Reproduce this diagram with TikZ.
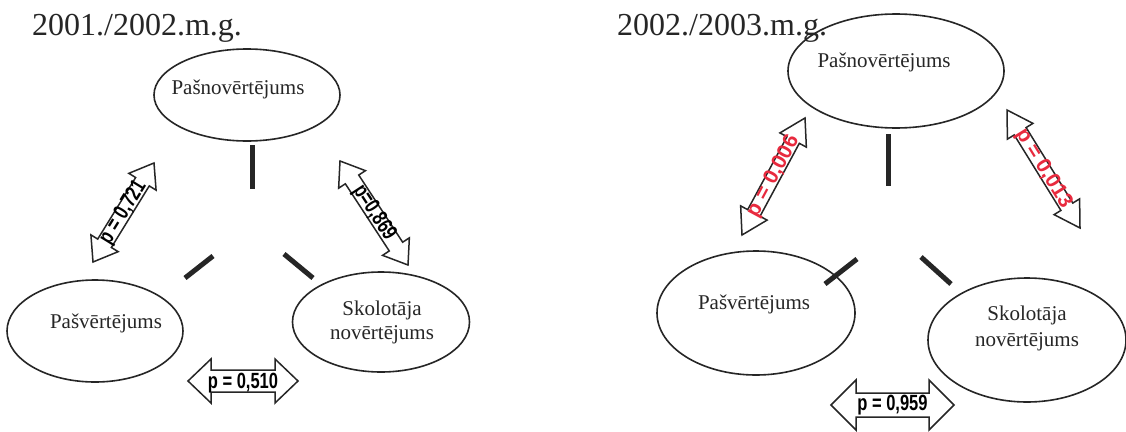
\documentclass[tikz,border=0pt]{standalone}
\usepackage{fontspec}
\setmainfont{Liberation Serif}
\newfontfamily\arrowfont{Liberation Sans}
\usetikzlibrary{shapes.geometric,calc}
\definecolor{pred}{RGB}{232,42,62}
\definecolor{ink}{RGB}{38,38,38}
\newcommand{\condense}[1]{\scalebox{0.75}[1]{#1}}
\newcommand{\dblarrow}[7]{% #1 name, #2 style, #3 A, #4 B, #5 head length, #6 head half width, #7 shaft half width
  \coordinate (#1p) at ($(#3)!#5!(#4)$);
  \coordinate (#1q) at ($(#4)!#5!(#3)$);
  \draw[#2] (#3) -- ($(#1p)!#6!90:(#4)$) -- ($(#1p)!#7!90:(#4)$)
    -- ($(#1q)!#7!-90:(#3)$) -- ($(#1q)!#6!-90:(#3)$) -- (#4)
    -- ($(#1q)!#6!90:(#3)$) -- ($(#1q)!#7!90:(#3)$)
    -- ($(#1p)!#7!-90:(#4)$) -- ($(#1p)!#6!-90:(#4)$) -- cycle;
}
\tikzset{
  ell/.style={ellipse, draw=ink, line width=1.6pt, inner sep=0},
  etext/.style={inner sep=0, text=ink, font=\fontsize{21}{24}\selectfont, align=center},
  ttl/.style={inner sep=0, anchor=base west, text=ink, font=\fontsize{32}{36}\selectfont},
  bar/.style={draw=ink, line width=5pt},
  barrow/.style={draw=ink, line width=1.5pt, fill=white, line join=miter},
  blab/.style={inner sep=0, text=black, font=\arrowfont\bfseries\fontsize{22}{22}\selectfont},
  rlab/.style={inner sep=0, text=pred, font=\arrowfont\bfseries\fontsize{21}{21}\selectfont},
}
\begin{document}
\begin{tikzpicture}[x=1pt,y=-1pt]
\useasboundingbox (0,0) rectangle (1126,431);
\fill[white] (0,0) rectangle (1126,431);

% ---------------- left diagram ----------------
\node[ttl] (t1) at (32,35) {2001./2002.m.g.};
\node[ell, minimum width=186, minimum height=92] (L1) at (247,95) {};
\node[etext] (L1t) at (238,89) {Pašnovērtējums};
\node[ell, minimum width=176, minimum height=102] (L2) at (95,331) {};
\node[etext] (L2t) at (106,323) {Pašvērtējums};
\node[ell, minimum width=177, minimum height=100] (L3) at (381,322) {};
\node[etext] (L3t) at (382,322) {Skolotāja\\novērtējums};

\coordinate (lb1a) at (252,145); \coordinate (lb1b) at (252,189);
\coordinate (lb2a) at (185,278); \coordinate (lb2b) at (213,256);
\coordinate (lb3a) at (284,254); \coordinate (lb3b) at (313,278);
\draw[bar] (lb1a) -- (lb1b);
\draw[bar] (lb2a) -- (lb2b);
\draw[bar] (lb3a) -- (lb3b);

\coordinate (a1s) at (93,262);  \coordinate (a1e) at (154,163);
\coordinate (a2s) at (340,161); \coordinate (a2e) at (408,265);
\coordinate (a3s) at (188,381); \coordinate (a3e) at (298,381);
\dblarrow{a1}{barrow}{a1s}{a1e}{22pt}{16pt}{8pt}
\dblarrow{a2}{barrow}{a2s}{a2e}{22pt}{16pt}{8pt}
\dblarrow{a3}{barrow}{a3s}{a3e}{23pt}{22pt}{11pt}
\path (a1s) -- node[blab, sloped] (a1t) {\condense{p = 0,721}} (a1e);
\path (a2s) -- node[blab, sloped] (a2t) {\condense{p=0,869}} (a2e);
\path (a3s) -- node[blab, sloped, yshift=-2pt] (a3t) {\condense{p = 0,510}} (a3e);

% ---------------- right diagram ----------------
\node[ttl] (t2) at (617,35) {2002./2003.m.g.};
\node[ell, minimum width=216, minimum height=114] (R1) at (896,71) {};
\node[etext] (R1t) at (884,62) {Pašnovērtējums};
\node[ell, minimum width=198, minimum height=124] (R2) at (756,313) {};
\node[etext] (R2t) at (754,304) {Pašvērtējums};
\node[ell, minimum width=198, minimum height=124] (R3) at (1027,340) {};
\node[etext] (R3t) at (1027,328) {Skolotāja\\[2pt]novērtējums};

\coordinate (rb1a) at (888,134); \coordinate (rb1b) at (888,186);
\coordinate (rb2a) at (825,284); \coordinate (rb2b) at (857,259);
\coordinate (rb3a) at (921,257); \coordinate (rb3b) at (951,284);
\draw[bar] (rb1a) -- (rb1b);
\draw[bar] (rb2a) -- (rb2b);
\draw[bar] (rb3a) -- (rb3b);

\coordinate (b1s) at (742,235);  \coordinate (b1e) at (805,118);
\coordinate (b2s) at (1007,110); \coordinate (b2e) at (1080,228);
\coordinate (b3s) at (831,405);  \coordinate (b3e) at (954,405);
\dblarrow{b1}{barrow}{b1s}{b1e}{25pt}{15pt}{7pt}
\dblarrow{b2}{barrow}{b2s}{b2e}{25pt}{15pt}{7pt}
\dblarrow{b3}{barrow}{b3s}{b3e}{25pt}{25pt}{12pt}
\path (b1s) -- node[rlab, sloped] (b1t) {p = 0,006} (b1e);
\path (b2s) -- node[rlab, sloped] (b2t) {p = 0,013} (b2e);
\path (b3s) -- node[blab, sloped] (b3t) {\condense{p = 0,959}} (b3e);
\end{tikzpicture}
\end{document}
